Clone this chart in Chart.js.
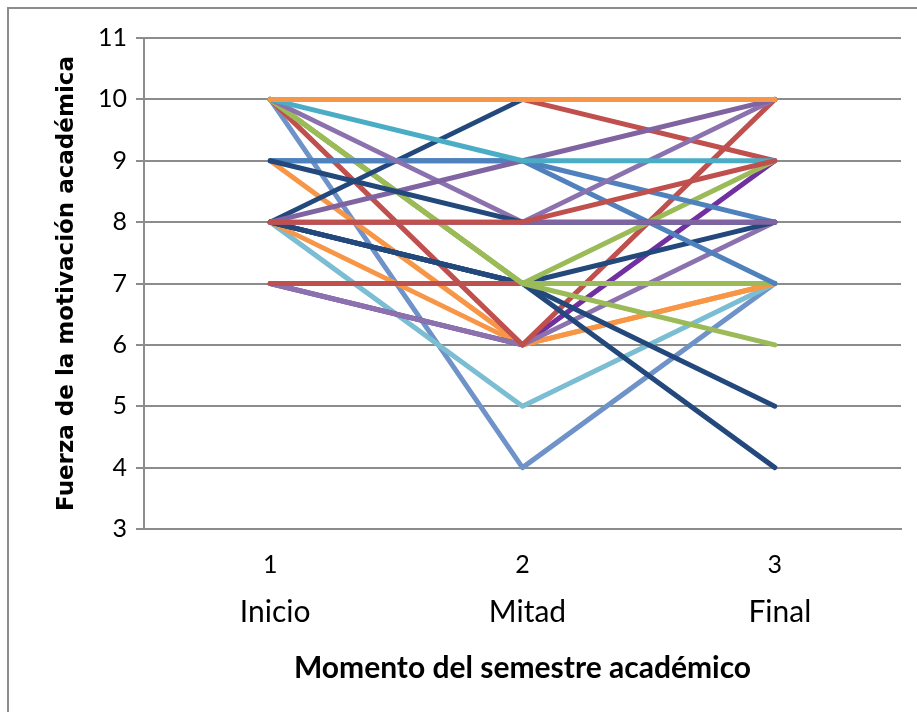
<!DOCTYPE html>
<html>
<head>
<meta charset="utf-8">
<script src="https://cdn.jsdelivr.net/npm/chart.js@4.4.0/dist/chart.umd.min.js"></script>
<style>
  html, body { margin: 0; padding: 0; background: #fff; overflow: hidden; }
  #marco { position: absolute; left: 7px; top: 7px; width: 1000px; height: 1000px; border: 2px solid #8c8c8c; }
  #cv { position: absolute; left: 0; top: 0; }
</style>
</head>
<body>
<div id="marco"></div>
<canvas id="cv" width="917" height="712"></canvas>
<script>
// momentos del semestre
let numeros = ['1', '2', '3'];
let momentos = ['Inicio', 'Mitad', 'Final'];
let ticksY = [3, 4, 5, 6, 7, 8, 9, 10, 11];

// un array por estudiante: [inicio, mitad, final]
// (el primero queda encima al dibujar)
let alumnos = [
    [10, 10, 10],
    [8, 8, 9],
    [8, 8, 8],
    [9, 8, 8],
    [10, 9, 9],
    [8, 9, 10],
    [10, 8, 10],
    [9, 9, 8],
    [9, 9, 7],
    [10, 10, 9],
    [8, 10, 10],
    [10, 7, 9],
    [10, 7, 7],
    [10, 7, 6],
    [7, 7, 7],
    [8, 7, 8],
    [8, 7, 5],
    [8, 7, 4],
    [10, 6, 10],
    [7, 6, 8],
    [7, 6, 9],
    [9, 6, 7],
    [8, 6, 7],
    [8, 5, 7],
    [10, 4, 7]
];

let colores = [
    '#F79646', '#C0504D', '#8064A2', '#23497C', '#4BACC6',
    '#8064A2', '#8B72AE', '#4F81BD', '#4F81BD', '#C0504D',
    '#23497C', '#9BBB59', '#9BBB59', '#9BBB59', '#C0504D',
    '#23497C', '#23497C', '#23497C', '#C0504D', '#8B72AE',
    '#7030A0', '#F79646', '#F79646', '#7BBDD2', '#6F93C9'
];

let gris = '#8c8c8c';
let fuente = 'Lato, "Liberation Sans", sans-serif';

let datasets = alumnos.map(function(valores, i){
    return {
        label: 'Estudiante ' + (i + 1),
        data: valores,
        borderColor: colores[i],
        backgroundColor: colores[i],
        borderWidth: 5,
        borderCapStyle: 'round',
        borderJoinStyle: 'round',
        pointRadius: 0,
        pointHoverRadius: 0,
        tension: 0,
        fill: false
    };
});

let ctx = document.getElementById('cv').getContext('2d');

let grafico = new Chart(ctx, {
    type: 'line',
    data: {
        labels: numeros,
        datasets: datasets
    },
    options: {
        responsive: false,
        animation: false,
        devicePixelRatio: 1,
        layout: { padding: { top: 38, right: 16, bottom: 0, left: 0 } },
        plugins: {
            legend: { display: false },
            tooltip: { enabled: false }
        },
        scales: {
            x: {
                type: 'category',
                position: 'bottom',
                weight: 0,
                offset: true,
                grid: { display: false, drawTicks: false },
                border: { display: true, color: gris, width: 2 },
                ticks: { color: '#000', padding: 21, font: { family: fuente, size: 25 } },
                afterFit: function(s){ s.height = 50; }
            },
            x2: {
                type: 'category',
                labels: momentos,
                position: 'bottom',
                weight: 1,
                offset: true,
                grid: { display: false, drawTicks: false },
                border: { display: false },
                ticks: { color: '#000', padding: 15, labelOffset: 5, font: { family: fuente, size: 30 } },
                title: {
                    display: true,
                    text: 'Momento del semestre académico',
                    color: '#000',
                    padding: { top: 0, bottom: 26 },
                    font: { family: fuente, size: 30, weight: 'bold' }
                },
                afterFit: function(s){ s.height = 133; }
            },
            y: {
                min: 3,
                max: 11,
                afterBuildTicks: function(s){ s.ticks = ticksY.map(function(v){ return { value: v }; }); },
                grid: { color: gris, lineWidth: 2, tickLength: 8 },
                border: { display: true, color: gris, width: 2 },
                ticks: { color: '#000', padding: 9, font: { family: fuente, size: 25 } },
                title: {
                    display: true,
                    text: 'Fuerza de la motivación académica',
                    color: '#000',
                    padding: { top: 53, bottom: 0 },
                    font: { family: '"DejaVu Sans", sans-serif', size: 23, weight: 'bold' }
                },
                afterFit: function(s){ s.width = 144; }
            }
        }
    }
});
</script>
</body>
</html>
